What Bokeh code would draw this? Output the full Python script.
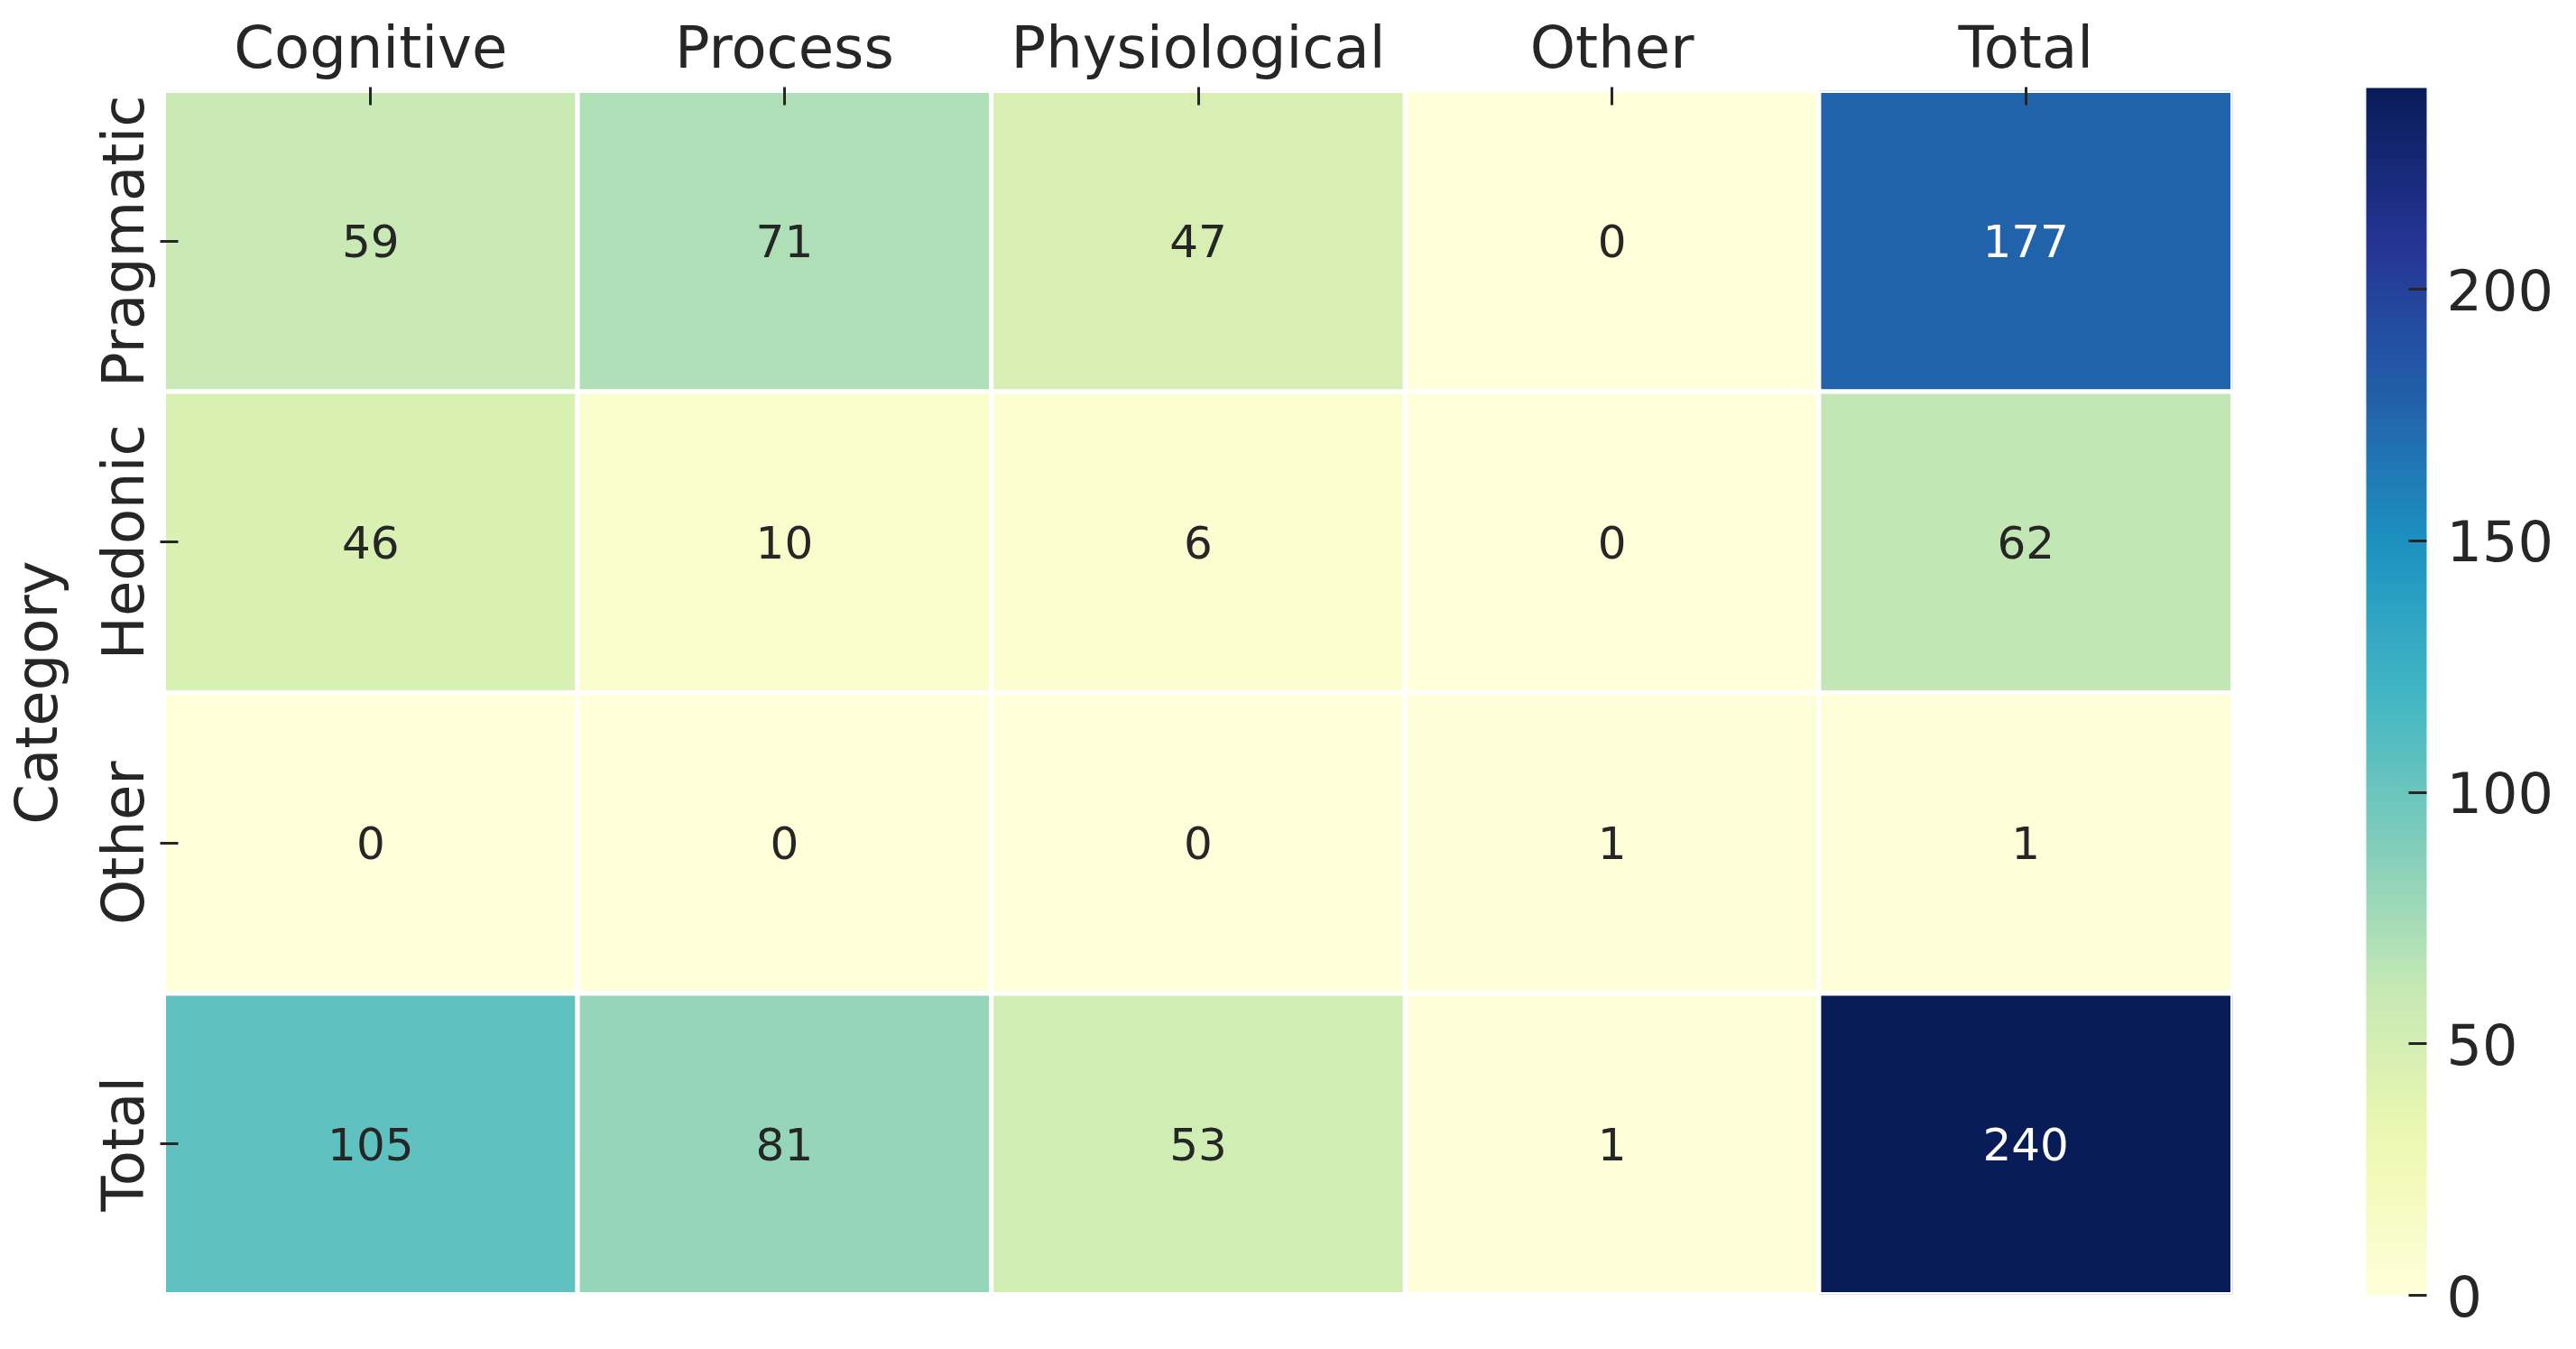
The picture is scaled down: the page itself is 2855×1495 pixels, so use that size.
import math
import numpy as np
from bokeh.plotting import figure
from bokeh.models import ColumnDataSource, LinearColorMapper, ColorBar, FixedTicker, FactorRange
from bokeh.embed import file_html
from bokeh.resources import INLINE
from bokeh.core.properties import value

# ---- data ----
columns = ["Cognitive", "Process", "Physiological", "Other", "Total"]
rows = ["Pragmatic", "Hedonic", "Other", "Total"]
pragmatic = [59, 71, 47, 0, 177]
hedonic = [46, 10, 6, 0, 62]
other = [0, 0, 0, 1, 1]
total = [105, 81, 53, 1, 240]
cbar_ticks = [0, 50, 100, 150, 200]
y_label = "Category"
vmin, vmax = 0, 240

# ---- YlGnBu continuous colormap (matplotlib style) ----
anchors = ["#ffffd9", "#edf8b1", "#c7e9b4", "#7fcdbb", "#41b6c4",
           "#1d91c0", "#225ea8", "#253494", "#081d58"]
anc = np.array([[int(h[i:i + 2], 16) for i in (1, 3, 5)] for h in anchors], float)
pos = np.linspace(0, 1, len(anchors))


def cmap(t):
    t = min(max(t, 0.0), 1.0)
    return tuple(float(np.interp(t, pos, anc[:, k])) for k in range(3))


def to_hex(c):
    return "#%02x%02x%02x" % tuple(int(round(v)) for v in c)


palette = [to_hex(cmap(i / 255)) for i in range(256)]


def rel_lum(c):
    out = []
    for v in c:
        v = v / 255
        out.append(v / 12.92 if v <= 0.03928 else ((v + 0.055) / 1.055) ** 2.4)
    return 0.2126 * out[0] + 0.7152 * out[1] + 0.0722 * out[2]


matrix = [pragmatic, hedonic, other, total]
xs, ys, vals, labels, tcols = [], [], [], [], []
for r, rowvals in zip(rows, matrix):
    for c, v in zip(columns, rowvals):
        xs.append(c)
        ys.append(r)
        vals.append(v)
        labels.append(str(v))
        col = cmap((v - vmin) / (vmax - vmin))
        tcols.append("#262626" if rel_lum(col) > 0.408 else "#ffffff")

src = ColumnDataSource(dict(col=xs, row=ys, val=vals, label=labels, tcolor=tcols))
mapper = LinearColorMapper(palette=palette, low=vmin, high=vmax)

FONT = "DejaVu Sans"

p = figure(width=2839, height=1479,
           x_range=FactorRange(*columns), y_range=FactorRange(*rows[::-1]),
           x_axis_location="above", output_backend="svg", toolbar_location=None,
           min_border_left=181, min_border_top=100, min_border_right=365, min_border_bottom=45)
p.outline_line_color = None
p.grid.visible = False

p.rect(x="col", y="row", width=1, height=1, source=src,
       fill_color={"field": "val", "transform": mapper},
       line_color="white", line_width=5)
p.text(x="col", y="row", text="label", source=src, text_color="tcolor",
       text_align="center", text_baseline="middle",
       text_font=value(FONT), text_font_size="50px")

for ax in (p.xaxis[0], p.yaxis[0]):
    ax.axis_line_color = None
    ax.major_tick_in = 16
    ax.major_tick_out = 4
    ax.major_tick_line_width = 3
    ax.major_tick_line_color = "#262626"
    ax.minor_tick_line_color = None
    ax.major_label_text_font = FONT
    ax.major_label_text_font_size = "64px"
    ax.major_label_text_color = "#262626"

p.xaxis[0].major_label_standoff = 7
p.yaxis[0].major_label_standoff = 4
p.yaxis[0].major_label_orientation = "parallel"
p.yaxis[0].axis_label = y_label
p.yaxis[0].axis_label_text_font = FONT
p.yaxis[0].axis_label_text_font_size = "64px"
p.yaxis[0].axis_label_text_font_style = "normal"
p.yaxis[0].axis_label_text_color = "#262626"
p.yaxis[0].axis_label_standoff = 19

cb = ColorBar(color_mapper=mapper, ticker=FixedTicker(ticks=cbar_ticks),
              location=(2441, -1), width=67, height=1338, margin=0, padding=0,
              major_tick_in=20, major_tick_out=0, major_tick_line_color="#262626",
              major_tick_line_width=3, minor_tick_line_color=None,
              major_label_text_font=FONT, major_label_text_font_size="62px",
              major_label_text_color="#262626", label_standoff=22,
              bar_line_color=None, border_line_color=None, background_fill_color=None)
p.add_layout(cb)

open("out.html", "w").write(file_html(p, INLINE))
